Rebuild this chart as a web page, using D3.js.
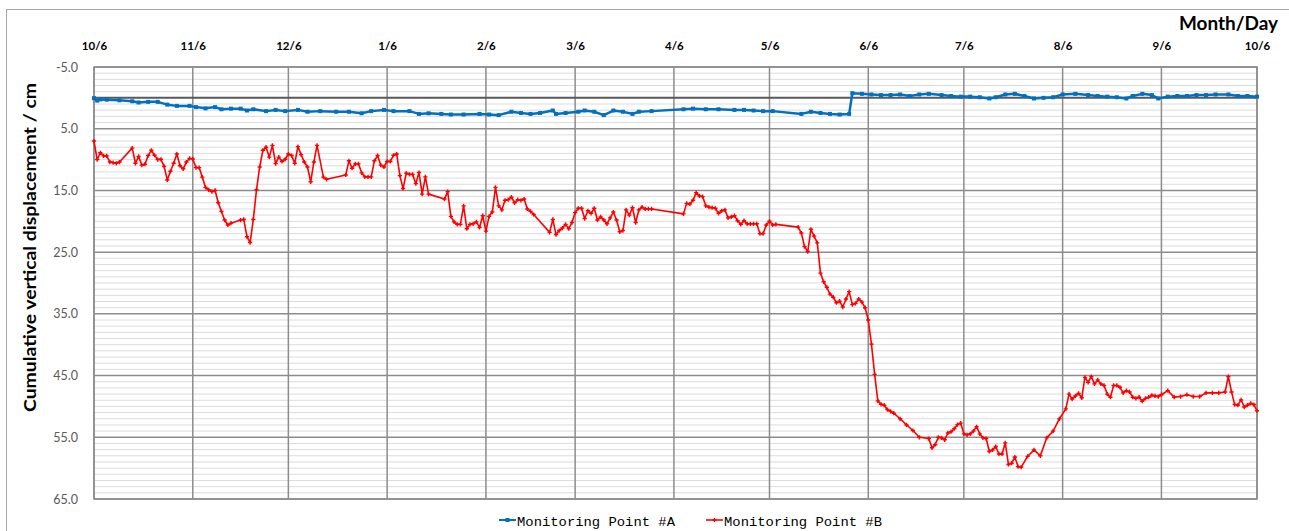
<!DOCTYPE html>
<html>
<head>
<meta charset="utf-8">
<script src="https://cdn.jsdelivr.net/npm/d3@7/dist/d3.min.js"></script>
<style>
  html, body { margin: 0; padding: 0; background: #fff; }
  svg { display: block; }
</style>
</head>
<body>
<svg id="chart" width="1289" height="531"></svg>
<script>
// Survey period start; all readings are given as days since this date.
const surveyStart = "2012-10-06";

// Month ticks on the top axis.
const xTickDates = ["2012-10-06", "2012-11-06", "2012-12-06", "2013-01-06", "2013-02-06",
  "2013-03-06", "2013-04-06", "2013-05-06", "2013-06-06", "2013-07-06",
  "2013-08-06", "2013-09-06", "2013-10-06"];
const yTicks = [-5, 5, 15, 25, 35, 45, 55, 65];

const seriesNames = ["Monitoring Point #A", "Monitoring Point #B"];

// Monitoring Point #A: cumulative vertical displacement (cm)
const dayA = [0, 1, 2, 4, 8, 12, 14, 17, 20, 23, 26, 30, 32, 35, 38, 40, 43, 46, 48, 50,
  54, 57, 60, 64, 67, 71, 76, 80, 84, 87, 91, 94, 99, 102, 105, 109, 112, 116, 121, 124,
  127, 131, 134, 137, 140, 144, 145, 148, 152, 154, 157, 160, 163, 166, 169, 171, 175,
  185, 188, 192, 196, 201, 204, 207, 210, 213, 222, 225, 228, 231, 234, 237, 238, 241,
  244, 247, 250, 253, 256, 259, 262, 266, 269, 272, 275, 278, 281, 283, 286, 289, 292,
  295, 298, 301, 304, 308, 312, 315, 318, 321, 324, 326, 329, 332, 334, 337, 340, 343,
  346, 349, 352, 356, 359, 362, 365];
const valA = [0.05, 0.45, 0.25, 0.3, 0.4, 0.55, 0.75, 0.65, 0.65, 1.1, 1.3, 1.3, 1.5, 1.7,
  1.5, 1.85, 1.75, 1.75, 2.05, 1.85, 2.15, 1.95, 2.15, 1.95, 2.25, 2.15, 2.25, 2.25, 2.5,
  2.15, 1.95, 2.15, 2.15, 2.6, 2.5, 2.6, 2.7, 2.7, 2.6, 2.7, 2.8, 2.25, 2.45, 2.6, 2.45,
  2.05, 2.6, 2.45, 2.25, 2.05, 2.25, 2.8, 2.05, 2.25, 2.6, 2.25, 2.15, 1.85, 1.75, 1.85,
  1.85, 1.95, 1.95, 2.05, 2.15, 2.15, 2.6, 2.25, 2.45, 2.6, 2.7, 2.6, -0.75, -0.65, -0.55,
  -0.45, -0.45, -0.55, -0.3, -0.55, -0.65, -0.45, -0.3, -0.2, -0.2, -0.1, 0.1, -0.1, -0.55,
  -0.65, -0.3, 0.1, 0.0, -0.1, -0.55, -0.65, -0.45, -0.3, -0.2, -0.1, 0.1, -0.3, -0.65,
  -0.45, 0.1, -0.2, -0.3, -0.3, -0.45, -0.45, -0.55, -0.55, -0.3, -0.3, -0.2];

// Monitoring Point #B: cumulative vertical displacement (cm)
const dayB = [0, 1, 2, 3, 4, 5, 6, 7, 8, 12, 13, 14, 15, 16, 17, 18, 19, 20, 21, 22, 23,
  24, 25, 26, 27, 28, 29, 30, 31, 32, 33, 34, 35, 36, 37, 38, 39, 40, 41, 42, 43, 46, 47,
  48, 49, 50, 51, 52, 53, 54, 55, 56, 57, 58, 59, 60, 61, 62, 63, 64, 65, 66, 67, 68, 69,
  70, 72, 73, 79, 80, 81, 82, 83, 84, 85, 86, 87, 88, 89, 90, 91, 92, 93, 94, 95, 96, 97,
  98, 99, 100, 101, 102, 103, 104, 105, 110, 111, 112, 113, 114, 115, 116, 117, 118, 119,
  120, 121, 122, 123, 124, 125, 126, 127, 128, 129, 130, 131, 132, 133, 134, 135, 136,
  137, 138, 143, 144, 145, 146, 147, 148, 149, 150, 151, 152, 153, 154, 155, 156, 157,
  158, 159, 160, 161, 162, 163, 164, 165, 166, 167, 168, 169, 170, 171, 172, 173, 174,
  175, 185, 186, 187, 188, 189, 190, 191, 192, 193, 194, 195, 196, 197, 198, 199, 200,
  201, 202, 203, 204, 205, 206, 207, 208, 209, 210, 211, 212, 213, 214, 221, 222, 223,
  224, 225, 226, 227, 228, 229, 230, 231, 232, 233, 234, 235, 236, 237, 238, 239, 240,
  241, 242, 243, 244, 245, 246, 247, 248, 249, 250, 251, 253, 255, 257, 259, 262, 263,
  264, 265, 266, 267, 268, 269, 270, 271, 272, 273, 274, 275, 276, 277, 278, 279, 280,
  281, 282, 283, 284, 285, 286, 287, 288, 289, 290, 291, 293, 295, 297, 299, 301, 303,
  305, 306, 307, 308, 309, 310, 311, 312, 313, 314, 315, 316, 317, 318, 319, 320, 321,
  322, 323, 324, 325, 326, 327, 328, 329, 330, 331, 332, 333, 334, 335, 337, 339, 341,
  343, 345, 347, 349, 351, 353, 355, 356, 357, 358, 359, 360, 361, 362, 363, 364, 365];
const valB = [7.0, 10.0, 8.9, 9.4, 9.4, 10.4, 10.5, 10.6, 10.4, 8.15, 10.6, 9.5, 10.9,
  10.75, 9.35, 8.5, 9.3, 10.0, 9.95, 11.1, 13.3, 11.9, 10.6, 9.1, 11.0, 11.5, 10.4, 9.8,
  9.9, 11.3, 11.3, 12.85, 14.5, 14.9, 15.2, 15.0, 17.0, 18.4, 19.8, 20.6, 20.3, 19.8,
  19.7, 22.5, 23.45, 19.7, 14.9, 11.2, 8.5, 8.0, 9.6, 7.7, 10.65, 9.6, 10.3, 9.95, 9.1,
  9.35, 10.6, 7.9, 9.2, 10.4, 11.2, 13.6, 10.4, 7.7, 12.85, 13.2, 12.5, 10.2, 11.4, 10.7,
  10.7, 12.15, 12.8, 12.8, 12.8, 10.2, 9.35, 10.9, 11.2, 10.3, 10.3, 9.3, 9.1, 12.6, 14.7,
  12.2, 12.4, 12.4, 13.9, 12.1, 15.6, 12.8, 15.6, 16.4, 15.2, 19.2, 20.1, 20.5, 20.5,
  17.5, 21.2, 20.5, 20.4, 20.1, 21.0, 19.1, 21.6, 19.2, 18.5, 14.5, 17.5, 18.15, 16.6,
  16.5, 16.1, 17.0, 16.5, 16.6, 16.4, 18.0, 18.4, 18.9, 21.8, 19.7, 22.15, 21.5, 21.1,
  20.5, 21.2, 20.2, 18.6, 17.9, 17.9, 19.55, 18.3, 18.7, 17.9, 19.8, 19.3, 19.8, 20.4,
  19.45, 18.5, 19.8, 21.7, 21.5, 18.15, 19.0, 17.8, 20.2, 18.15, 17.7, 18.0, 18.0, 18.0,
  18.8, 17.1, 17.2, 16.6, 15.35, 15.9, 16.0, 17.5, 17.7, 17.8, 17.9, 18.7, 18.3, 18.15,
  19.45, 19.3, 19.1, 19.9, 20.5, 19.9, 20.4, 20.4, 20.4, 20.4, 22.0, 22.0, 20.6, 20.0,
  20.6, 20.5, 20.95, 21.9, 24.1, 24.9, 21.3, 22.4, 23.5, 28.4, 29.8, 30.7, 31.8, 32.3,
  33.2, 32.95, 33.9, 32.6, 31.4, 33.5, 33.3, 32.6, 33.1, 34.0, 36.0, 39.9, 44.8, 49.1,
  49.65, 49.8, 50.5, 50.8, 51.1, 52.0, 53.0, 53.9, 55.0, 55.2, 56.7, 56.2, 55.0, 55.1,
  55.4, 54.3, 54.1, 53.6, 52.95, 52.7, 54.45, 54.6, 54.45, 54.0, 53.3, 54.45, 55.1, 55.2,
  57.3, 57.05, 56.5, 57.7, 57.7, 55.9, 59.4, 59.2, 58.2, 59.75, 59.85, 58.1, 57.05, 58.0,
  55.1, 54.0, 52.0, 50.4, 48.0, 48.8, 48.3, 47.9, 48.6, 45.3, 46.1, 45.15, 46.35, 45.7,
  46.35, 46.6, 48.0, 48.5, 46.6, 46.6, 46.9, 47.8, 47.45, 47.65, 48.5, 48.7, 48.5, 49.15,
  48.7, 48.5, 48.2, 48.3, 48.4, 48.1, 47.45, 48.5, 48.4, 48.1, 48.4, 48.4, 47.8, 47.8,
  47.8, 47.65, 45.15, 47.65, 49.7, 49.8, 48.95, 50.1, 49.8, 49.5, 49.7, 50.7];

const colorA = "#0070C0";
const colorB = "#FF0000";

const svg = d3.select("#chart");
const W = 1289, H = 531;
const plot = { left: 94, right: 1257, top: 67, bottom: 499 };

const parse = d3.timeParse("%Y-%m-%d");
const t0 = parse(surveyStart);
const toDate = d => d3.timeDay.offset(t0, d);

const x = d3.scaleTime()
  .domain([t0, toDate(365)])
  .range([plot.left, plot.right]);
const y = d3.scaleLinear()
  .domain([-5, 65])
  .range([plot.top, plot.bottom]);

const ptsA = dayA.map((d, i) => ({ date: toDate(d), v: valA[i] }));
const ptsB = dayB.map((d, i) => ({ date: toDate(d), v: valB[i] }));

// background and outer chart frame
svg.append("rect").attr("width", W).attr("height", H).attr("fill", "#fff");
svg.append("rect")
  .attr("x", 6.5).attr("y", 9.5).attr("width", W).attr("height", H)
  .attr("fill", "none").attr("stroke", "#a6a6a6").attr("stroke-width", 1);

const grid = svg.append("g");

// minor horizontal grid, every 1 cm
grid.selectAll("line.minor")
  .data(d3.range(-4, 65).filter(v => (v + 5) % 10 !== 0 && v !== 0))
  .join("line")
  .attr("x1", plot.left).attr("x2", plot.right)
  .attr("y1", d => y(d)).attr("y2", d => y(d))
  .attr("stroke", "#dcdcdc").attr("stroke-width", 1);

// major horizontal grid
grid.selectAll("line.major")
  .data(yTicks)
  .join("line")
  .attr("x1", plot.left).attr("x2", plot.right)
  .attr("y1", d => y(d)).attr("y2", d => y(d))
  .attr("stroke", "#8c8c8c").attr("stroke-width", 1.5);

// vertical month grid
const tickDates = xTickDates.map(parse);
grid.selectAll("line.vx")
  .data(tickDates)
  .join("line")
  .attr("x1", d => x(d)).attr("x2", d => x(d))
  .attr("y1", plot.top).attr("y2", plot.bottom)
  .attr("stroke", "#8c8c8c").attr("stroke-width", 1.5);

// horizontal axis line through zero
grid.append("line")
  .attr("x1", plot.left).attr("x2", plot.right)
  .attr("y1", y(0)).attr("y2", y(0))
  .attr("stroke", "#595959").attr("stroke-width", 2);

// top time axis
const xAxis = d3.axisTop(x)
  .tickValues(tickDates)
  .tickFormat(d3.timeFormat("%-m/%-d"))
  .tickSize(0)
  .tickPadding(0);
const gx = svg.append("g")
  .attr("transform", `translate(0,50)`)
  .call(xAxis);
gx.select(".domain").remove();
gx.selectAll("text")
  .attr("dy", 0)
  .attr("font-family", "Lato, 'Open Sans', sans-serif")
  .attr("font-size", 11.5)
  .attr("font-weight", "bold")
  .attr("fill", "#000");

// left value axis (labels only)
const yAxis = d3.axisLeft(y)
  .tickValues(yTicks)
  .tickFormat(d3.format(".1f"))
  .tickSize(0)
  .tickPadding(0);
const gy = svg.append("g")
  .attr("transform", `translate(78,0)`)
  .call(yAxis);
gy.select(".domain").remove();
gy.selectAll("text")
  .attr("font-family", "Lato, 'Open Sans', sans-serif")
  .attr("font-size", 12.5)
  .attr("fill", "#595959");
gy.selectAll("text").text(d => d3.format(".1f")(d).replace("−", "-"));

// plot border
svg.append("rect")
  .attr("x", plot.left).attr("y", plot.top)
  .attr("width", plot.right - plot.left).attr("height", plot.bottom - plot.top)
  .attr("fill", "none").attr("stroke", "#8c8c8c").attr("stroke-width", 1.5);

// series lines
const line = d3.line().x(d => x(d.date)).y(d => y(d.v));

svg.append("path").datum(ptsA)
  .attr("d", line).attr("fill", "none")
  .attr("stroke", colorA).attr("stroke-width", 2.5).attr("stroke-linejoin", "round");
svg.append("g").selectAll("rect")
  .data(ptsA).join("rect")
  .attr("x", d => x(d.date) - 2).attr("y", d => y(d.v) - 2)
  .attr("width", 4).attr("height", 4)
  .attr("fill", colorA);

svg.append("path").datum(ptsB)
  .attr("d", line).attr("fill", "none")
  .attr("stroke", colorB).attr("stroke-width", 1.6).attr("stroke-linejoin", "round");
const plus = d3.symbol().type(d3.symbolCross).size(10);
svg.append("g").selectAll("path")
  .data(ptsB).join("path")
  .attr("d", plus)
  .attr("transform", d => `translate(${x(d.date)},${y(d.v)})`)
  .attr("fill", colorB);

// axis titles
svg.append("text")
  .attr("x", 1278).attr("y", 30)
  .attr("text-anchor", "end")
  .attr("font-family", "Lato, 'Open Sans', sans-serif")
  .attr("font-size", 19).attr("font-weight", "bold")
  .attr("fill", "#000")
  .attr("textLength", 99).attr("lengthAdjust", "spacingAndGlyphs")
  .text("Month/Day");

svg.append("text")
  .attr("transform", "translate(35.5,247.5) rotate(-90)")
  .attr("text-anchor", "middle")
  .attr("font-family", "Lato, 'Open Sans', sans-serif")
  .attr("font-size", 17).attr("font-weight", "bold")
  .attr("fill", "#000")
  .attr("textLength", 329).attr("lengthAdjust", "spacingAndGlyphs")
  .text("Cumulative vertical displacement / cm");

// legend
const legend = svg.append("g");
const legendItems = [
  { name: seriesNames[0], color: colorA, x0: 499, tx: 517, tw: 158, kind: "square" },
  { name: seriesNames[1], color: colorB, x0: 706, tx: 724, tw: 158, kind: "plus" }
];
legendItems.forEach(it => {
  legend.append("line")
    .attr("x1", it.x0).attr("x2", it.x0 + 17)
    .attr("y1", 520).attr("y2", 520)
    .attr("stroke", it.color).attr("stroke-width", it.kind === "square" ? 2 : 1.6);
  if (it.kind === "square") {
    legend.append("rect")
      .attr("x", it.x0 + 6.5).attr("y", 518).attr("width", 4).attr("height", 4)
      .attr("fill", it.color);
  } else {
    legend.append("path").attr("d", plus)
      .attr("transform", `translate(${it.x0 + 8.5},520)`)
      .attr("fill", it.color);
  }
  legend.append("text")
    .attr("x", it.tx).attr("y", 526)
    .attr("font-family", "'Liberation Mono', 'DejaVu Sans Mono', monospace")
    .attr("font-size", 13.5)
    .attr("fill", "#000")
    .attr("textLength", it.tw).attr("lengthAdjust", "spacingAndGlyphs")
    .text(it.name);
});
</script>
</body>
</html>
